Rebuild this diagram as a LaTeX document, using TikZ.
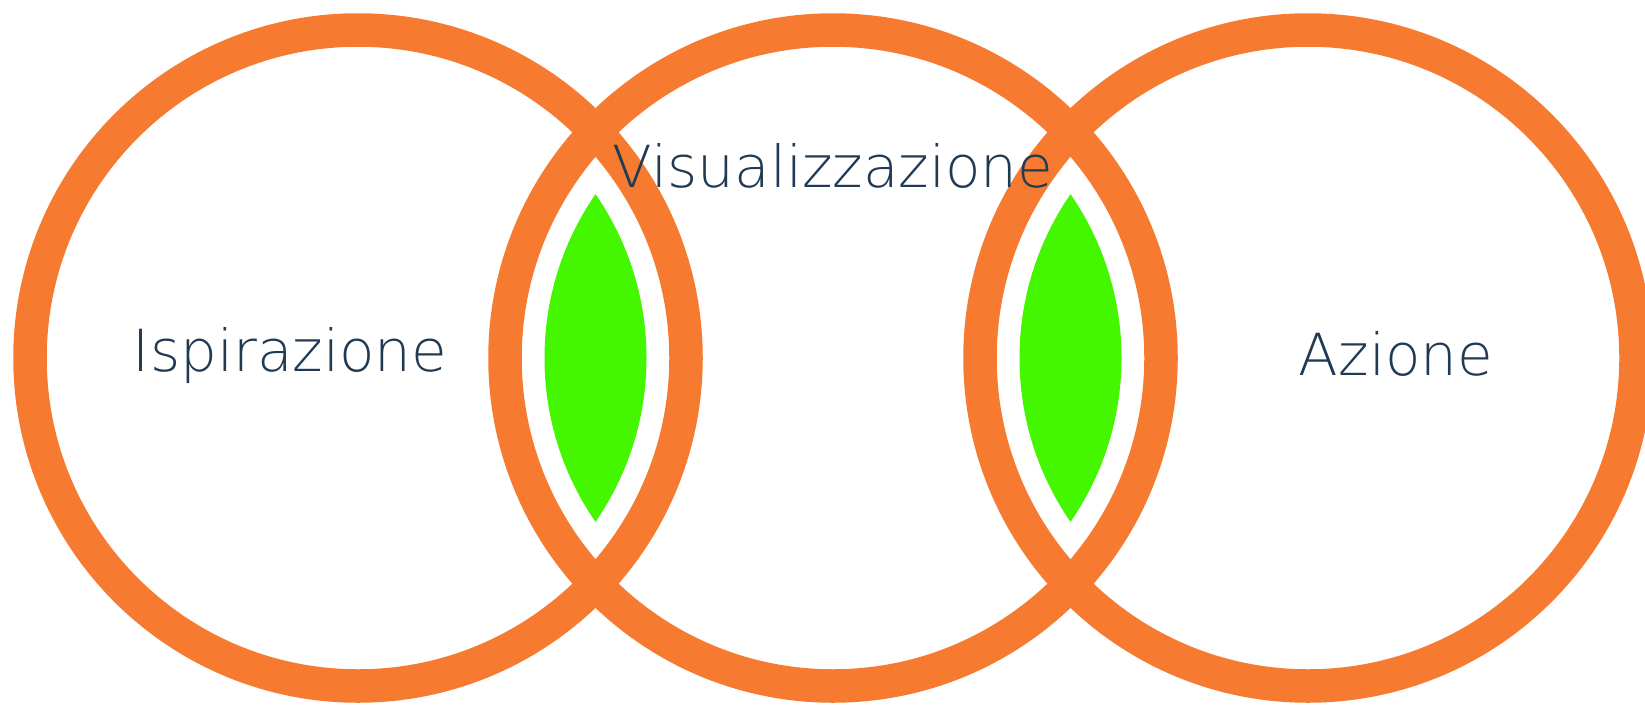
\documentclass[tikz,border=0pt]{standalone}
\usepackage{fontspec}
\setmainfont{DejaVu Sans ExtraLight}
\usetikzlibrary{positioning}
\definecolor{ringorange}{HTML}{F67B30}
\definecolor{lensgreen}{HTML}{44F600}
\definecolor{inkblue}{HTML}{1F3A52}

\begin{document}
\begin{tikzpicture}[x=1pt,y=-1pt,
  ring/.style={draw=ringorange,line width=33.5pt},
  lens/.style={fill=lensgreen},
  word/.style={text=inkblue,font=\fontsize{58}{66}\selectfont,inner sep=0pt,anchor=base}]
  \useasboundingbox (0,0) rectangle (1645,704);
  % centres of the three rings
  \coordinate (ispC) at (358,358);
  \coordinate (visC) at (833,358);
  \coordinate (azC) at (1308,358);
  % green overlaps
  \begin{scope}
    \clip (ispC) circle (288.5);
    \fill[lens] (visC) circle (288.5);
  \end{scope}
  \begin{scope}
    \clip (visC) circle (288.5);
    \fill[lens] (azC) circle (288.5);
  \end{scope}
  % rings
  \draw[ring] (ispC) circle (328);
  \draw[ring] (visC) circle (328);
  \draw[ring] (azC) circle (328);
  % labels
  \node[word] (isp) at (290,371) {Ispirazione};
  \node[word] (vis) at (833,187) {Visualizzazione};
  \node[word] (az) at (1396,375) {Azione};
\end{tikzpicture}
\end{document}
